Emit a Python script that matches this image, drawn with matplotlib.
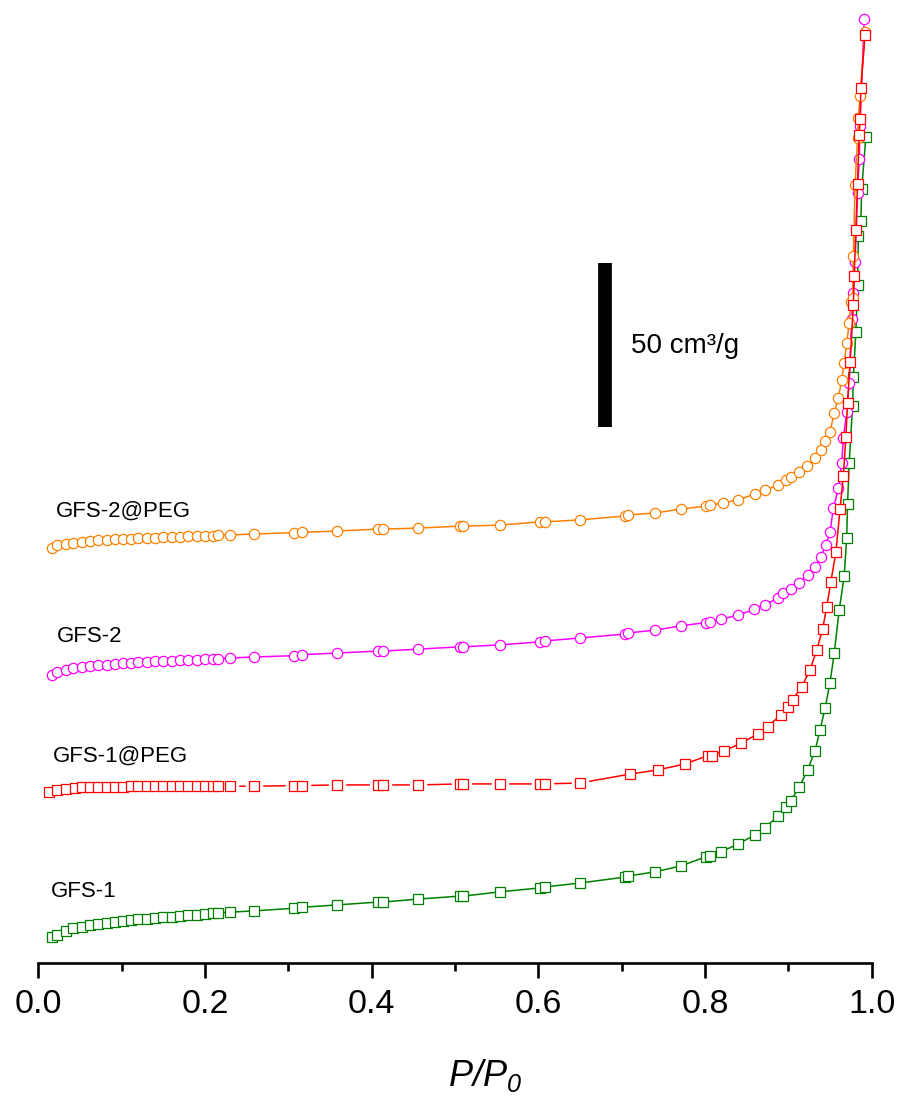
import numpy as np
from matplotlib import pyplot as plt
from matplotlib.ticker import MultipleLocator

plt.rcParams['font.family'] = ['Liberation Sans', 'DejaVu Sans']
plt.rcParams['mathtext.fontset'] = 'custom'
plt.rcParams['mathtext.it'] = 'Liberation Sans:italic'
plt.rcParams['mathtext.rm'] = 'Liberation Sans:italic'

# P/P0 grid shared by the isotherms (low and middle pressure part)
x_low = [0.017, 0.022, 0.033, 0.042, 0.052, 0.062, 0.072, 0.082, 0.092, 0.102,
         0.111, 0.120, 0.130, 0.140, 0.150, 0.160, 0.170, 0.180, 0.190, 0.200,
         0.210, 0.216, 0.230, 0.259, 0.307, 0.316]
x_mid = [0.358, 0.408, 0.414, 0.456, 0.506, 0.510, 0.554, 0.602, 0.608, 0.650,
         0.704, 0.707, 0.740, 0.771, 0.801, 0.806]

# GFS-2@PEG (orange), stacked volume in cm3/g
peg2_low = [126.3, 127.3, 127.7, 128.0, 128.4, 128.6, 128.8, 129.0, 129.1, 129.2,
            129.3, 129.4, 129.5, 129.6, 129.7, 129.8, 129.9, 130.0, 130.0, 130.1,
            130.2, 130.3, 130.4, 130.7, 131.1, 131.2]
peg2_mid = [131.6, 132.2, 132.2, 132.5, 133.1, 133.1, 133.4, 134.4, 134.4, 135.0,
            136.2, 136.5, 137.1, 138.3, 139.2, 139.5]
peg2_xh = [0.822, 0.840, 0.860, 0.872, 0.888, 0.897, 0.903, 0.913, 0.922, 0.932,
           0.939, 0.944, 0.950, 0.955, 0.960, 0.964, 0.967, 0.970, 0.973, 0.975,
           0.977, 0.978, 0.980, 0.983, 0.984, 0.986, 0.992]
peg2_yh = [140.2, 141.1, 142.9, 144.1, 145.6, 147.2, 148.1, 149.6, 151.4, 153.9,
           156.3, 159.1, 161.8, 167.6, 172.2, 177.7, 182.8, 188.9, 195.0, 201.4,
           202.7, 215.5, 237.1, 251.4, 257.5, 264.2, 283.7]

# GFS-2 (magenta)
gfs2_low = [87.7, 88.7, 89.2, 89.8, 90.1, 90.5, 90.7, 90.9, 91.1, 91.3,
            91.5, 91.7, 91.8, 91.9, 92.0, 92.1, 92.2, 92.3, 92.4, 92.5,
            92.6, 92.7, 92.9, 93.2, 93.6, 93.9]
gfs2_mid = [94.4, 95.0, 95.0, 95.6, 96.3, 96.3, 96.9, 97.8, 98.1, 99.0,
            100.2, 100.5, 101.4, 102.7, 103.7, 103.9]
gfs2_xh = [0.819, 0.840, 0.859, 0.872, 0.888, 0.894, 0.903, 0.913, 0.923, 0.932,
           0.939, 0.945, 0.950, 0.954, 0.960, 0.964, 0.966, 0.970, 0.973, 0.976,
           0.978, 0.980, 0.983, 0.985, 0.986, 0.991]
gfs2_yh = [104.7, 106.0, 107.7, 109.1, 111.2, 112.7, 113.8, 115.7, 118.2, 120.7,
           123.8, 127.3, 131.4, 138.5, 144.6, 152.3, 159.9, 168.0, 176.8, 196.2,
           204.3, 213.7, 234.6, 244.9, 255.1, 287.6]

# GFS-1@PEG (red)
peg1_xl = [0.013, 0.023, 0.033, 0.044] + x_low[4:]
peg1_low = [52.1, 52.7, 53.0, 53.3, 53.5, 53.7, 53.7, 53.7, 53.7, 53.7,
            53.8, 53.8, 53.8, 53.8, 53.8, 53.8, 53.8, 53.8, 53.8, 53.8,
            53.8, 53.8, 53.8, 53.8, 54.0, 54.0]
peg1_mid = [54.2, 54.2, 54.2, 54.2, 54.5, 54.5, 54.5, 54.5, 54.5, 54.8]
peg1_xh = [0.710, 0.744, 0.776, 0.803, 0.808, 0.823, 0.843, 0.863, 0.875, 0.891,
           0.900, 0.905, 0.916, 0.926, 0.934, 0.941, 0.946, 0.951, 0.957, 0.962,
           0.966, 0.969, 0.971, 0.974, 0.978, 0.979, 0.981, 0.983, 0.985, 0.986,
           0.987, 0.992]
peg1_yh = [57.5, 58.8, 60.6, 63.1, 63.1, 64.6, 66.9, 69.7, 72.0, 75.5,
           78.0, 80.1, 84.1, 89.3, 95.3, 101.6, 108.4, 116.2, 125.1, 138.2,
           148.5, 160.2, 170.5, 183.0, 200.5, 209.4, 223.4, 237.4, 252.3, 257.1,
           266.6, 282.8]

# GFS-1 (green)
gfs1_low = [7.7, 8.4, 9.8, 10.5, 11.0, 11.4, 11.8, 12.2, 12.5, 12.8,
            13.0, 13.2, 13.4, 13.6, 13.8, 14.0, 14.2, 14.5, 14.6, 14.8,
            15.1, 15.2, 15.4, 15.8, 16.6, 16.9]
gfs1_mid = [17.6, 18.5, 18.5, 19.4, 20.3, 20.3, 21.6, 22.8, 23.1, 24.3,
            26.1, 26.4, 27.7, 29.5, 32.3, 32.5]
gfs1_xh = [0.819, 0.840, 0.860, 0.872, 0.888, 0.897, 0.903, 0.913, 0.923, 0.932,
           0.938, 0.944, 0.950, 0.955, 0.961, 0.967, 0.970, 0.971, 0.973, 0.977,
           0.978, 0.981, 0.983, 0.984, 0.987, 0.988, 0.993]
gfs1_yh = [33.8, 36.2, 39.0, 41.2, 44.8, 47.4, 49.4, 53.5, 58.7, 64.6,
           70.9, 77.6, 85.4, 94.3, 107.5, 117.9, 129.4, 139.8, 152.3, 169.7,
           178.5, 192.4, 206.6, 221.6, 226.1, 235.8, 251.8]

fig = plt.figure(figsize=(9.01, 11.03), dpi=100)
ax = fig.add_axes([38.3/901, 140.3/1103, 833.4/901, 962.7/1103])

ms_sq = 6.5
ms_ci = 7.4
lw = 1.1

# GFS-1
x = np.array(x_low + x_mid + gfs1_xh)
y = np.array(gfs1_low + gfs1_mid + gfs1_yh)
ax.plot(x, y, color='#008000', lw=lw, marker='s', ms=ms_sq, mfc='white', mew=0.9, clip_on=False)

# GFS-2
x = np.array(x_low + x_mid + gfs2_xh)
y = np.array(gfs2_low + gfs2_mid + gfs2_yh)
ax.plot(x, y, color='#FF00FF', lw=lw, marker='o', ms=ms_ci, mfc='white', mew=0.9, clip_on=False)

# GFS-2@PEG
x = np.array(x_low + x_mid + peg2_xh)
y = np.array(peg2_low + peg2_mid + peg2_yh)
ax.plot(x, y, color='#FF8000', lw=lw, marker='o', ms=ms_ci, mfc='white', mew=0.9, clip_on=False)

# GFS-1@PEG: line is broken around the symbols in the flat part
x = np.array(peg1_xl + x_mid[:10] + peg1_xh)
y = np.array(peg1_low + peg1_mid + peg1_yh)
ax.plot(x, y, color='#FF0000', lw=lw, clip_on=False)
flat = x < 0.66
ax.plot(x[flat], y[flat], ls='none', marker='s', ms=11.5, mfc='white', mec='white', clip_on=False)
ax.plot(x, y, ls='none', color='#FF0000', marker='s', ms=ms_sq, mfc='white', mew=0.9, clip_on=False)

# scale bar
ax.plot([0.680, 0.680], [163.4, 213.4], color='black', lw=9.9, solid_capstyle='butt')
ax.text(0.711, 185.8, '50 cm³/g', fontsize=20, va='baseline', ha='left')

ax.text(0.0212, 136.0, 'GFS-2@PEG', fontsize=16, va='baseline')
ax.text(0.022, 97.9, 'GFS-2', fontsize=16, va='baseline')
ax.text(0.018, 61.3, 'GFS-1@PEG', fontsize=16, va='baseline')
ax.text(0.0149, 19.9, 'GFS-1', fontsize=16, va='baseline')

ax.set_xlim(0, 1.0)
ax.set_ylim(0, 293.5)
for s in ['left', 'right', 'top']:
    ax.spines[s].set_visible(False)
ax.spines['bottom'].set_linewidth(1.9)
ax.yaxis.set_visible(False)
ax.xaxis.set_minor_locator(MultipleLocator(0.1))
ax.set_xticks(np.arange(0, 1.01, 0.2))
ax.set_xticklabels(['%.1f' % v for v in np.arange(0, 1.01, 0.2)])
ax.tick_params(axis='x', which='major', direction='out', length=10.8, width=1.9, labelsize=24.5, pad=8)
ax.tick_params(axis='x', which='minor', direction='out', length=5.8, width=1.9)
ax.set_xlabel('$P/P_0$', fontsize=26)
ax.xaxis.set_label_coords(0.536, -0.098)

fig.savefig('out.png', dpi=100)
